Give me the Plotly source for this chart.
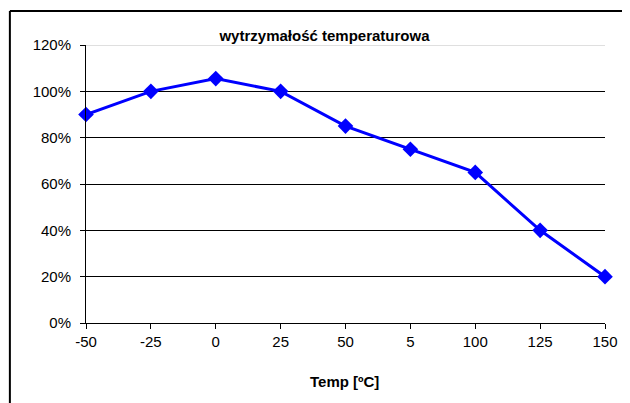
import plotly.graph_objects as go

categories = ["-50", "-25", "0", "25", "50", "5", "100", "125", "150"]
values = [0.90, 1.00, 1.055, 1.00, 0.85, 0.75, 0.65, 0.40, 0.20]
y_ticks = [0, 0.2, 0.4, 0.6, 0.8, 1.0, 1.2]
y_tick_labels = ["0%", "20%", "40%", "60%", "80%", "100%", "120%"]

title_text = "wytrzymałość temperaturowa"
x_title = "Temp [ºC]"

# page has an 8px body margin, so the figure is sized to fit the 630x403 window
W, H = 622, 395
L, R, T, B = 78, 19, 37, 80
pw, ph = W - L - R, H - T - B

fig = go.Figure()
fig.add_trace(go.Scatter(
    x=categories, y=values, mode="lines+markers",
    line=dict(color="#0000FF", width=3),
    marker=dict(symbol="diamond", size=12, color="#0000FF"),
    cliponaxis=False, showlegend=False,
))

fig.update_layout(
    width=W, height=H,
    margin=dict(l=L, r=R, t=T, b=B),
    paper_bgcolor="white", plot_bgcolor="white",
    font=dict(family="Liberation Sans, Arial", size=15, color="black"),
    title=dict(text="<b>" + title_text + "</b>", x=316.5 / W, xref="container",
               xanchor="center", y=1 - 28 / H, yref="container", yanchor="middle",
               font=dict(size=15)),
    xaxis=dict(type="category", range=[0, len(categories) - 1],
               showline=True, linecolor="black", linewidth=1,
               ticks="outside", ticklen=5, tickcolor="black",
               showgrid=False, zeroline=False, fixedrange=True),
    yaxis=dict(range=[0, 1.2], tickvals=y_ticks, ticktext=y_tick_labels,
               showline=True, linecolor="black", linewidth=1,
               ticks="outside", ticklen=5, tickcolor="black",
               ticklabelstandoff=6,
               showgrid=True, gridcolor="black", gridwidth=1, zeroline=False),
)

fig.add_annotation(text="<b>" + x_title + "</b>", xref="paper", yref="paper",
                   x=(339 - L) / pw, y=-(373 - (T + ph)) / ph,
                   xanchor="center", yanchor="middle", showarrow=False,
                   font=dict(size=15))

# light grey top edge of plot area
fig.add_shape(type="line", xref="paper", yref="y", x0=0, x1=1, y0=1.2, y1=1.2,
              line=dict(color="#C0C0C0", width=1), layer="above")
# chart area border (left and top edges visible)
bx = (1 - L) / pw
by = 1 + (T - 3) / ph
fig.add_shape(type="line", xref="paper", yref="paper", x0=bx, x1=bx, y0=by, y1=-1,
              line=dict(color="black", width=2))
fig.add_shape(type="line", xref="paper", yref="paper", x0=bx, x1=2, y0=by, y1=by,
              line=dict(color="black", width=2))

fig.write_html("out.html")
